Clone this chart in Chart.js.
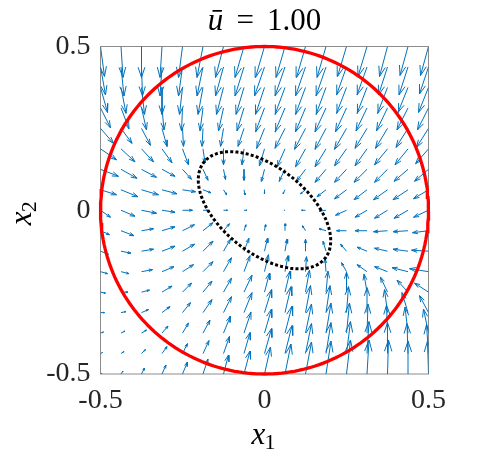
<!DOCTYPE html>
<html>
<head>
<meta charset="utf-8">
<script src="https://cdn.jsdelivr.net/npm/chart.js@4.4.1/dist/chart.umd.min.js"></script>
<style>
  html, body { margin: 0; padding: 0; background: #fff; }
  canvas { display: block; }
</style>
</head>
<body>
<canvas id="chart" width="478" height="455"></canvas>
<script>
// grid of the quiver (x1 left to right, x2 top to bottom)
const xs = [-0.5, -0.4375, -0.375, -0.3125, -0.25, -0.1875, -0.125, -0.0625, 0, 0.0625, 0.125, 0.1875, 0.25, 0.3125, 0.375, 0.4375, 0.5];
const ys = [0.5, 0.4375, 0.375, 0.3125, 0.25, 0.1875, 0.125, 0.0625, 0, -0.0625, -0.125, -0.1875, -0.25, -0.3125, -0.375, -0.4375, -0.5];

// field components, one row per x2 value
const U = [
  [4, 2, 0, -2, -4, -6, -8, -9, -9, -9, -9, -9, -9, -9, -8, -8, -8],
  [5, 3, 1, -2, -4, -6, -8, -9, -10, -10, -10, -10, -10, -10, -9, -9, -9],
  [7, 5, 3, 0, -3, -5, -7, -8, -9, -10, -10, -10, -10, -10, -10, -10, -10],
  [10, 8, 5, 2, -1, -3, -5, -7, -9, -10, -10, -11, -11, -11, -11, -11, -11],
  [13, 11, 9, 5, 1, -1, -3, -6, -8, -10, -11, -11, -12, -12, -12, -12, -12],
  [16, 14, 12, 10, 6, 2, 0, -2, -5, -8, -10, -11, -12, -12, -13, -13, -13],
  [18, 16, 15, 13, 9, 5, 2, 0, -3, -6, -9, -11, -12, -13, -13, -14, -14],
  [16, 17, 17, 15, 13, 8, 3, 1, 0, -2, -5, -9, -12, -13, -14, -15, -15],
  [10, 14, 15, 13, 10, 5, 4, 3, 0, -1, -4, -7, -11, -12, -13, -14, -15],
  [9, 13, 12, 13, 12, 10, 6, 2, 1, 0, -3, -7, -10, -12, -14, -15, -16],
  [8, 10, 12, 13, 12, 10, 7, 5, 3, 2, 0, -3, -6, -10, -13, -15, -17],
  [7, 8, 11, 12, 11, 10, 8, 6, 4, 3, 1, -1, -5, -10, -13, -16, -19],
  [5, 7, 8, 10, 9, 9, 8, 8, 5, 5, 4, 2, 0, -3, -7, -11, -14],
  [4, 5, 7, 8, 8, 9, 8, 8, 7, 6, 5, 4, 2, 0, -3, -6, -9],
  [3, 4, 5, 6, 6, 7, 7, 7, 7, 7, 6, 5, 3, 1, -1, -3, -5],
  [2, 3, 4, 5, 5, 6, 6, 6, 7, 7, 6, 5, 4, 2, 0, -1, -2],
  [1, 2, 3, 4, 5, 5, 5, 6, 6, 6, 6, 5, 4, 2, 1, 0, -1]
];
const V = [
  [-30, -31, -31, -31, -31, -31, -31, -31, -31, -31, -31, -31, -30, -30, -30, -29, -29],
  [-28, -29, -29, -29, -29, -29, -29, -29, -29, -29, -29, -29, -28, -28, -28, -28, -27],
  [-25, -26, -27, -27, -27, -27, -27, -27, -27, -27, -27, -27, -26, -26, -26, -25, -25],
  [-20, -21, -22, -22, -23, -23, -23, -23, -24, -24, -24, -24, -24, -23, -23, -22, -22],
  [-15, -15, -17, -18, -18, -18, -18, -18, -20, -20, -21, -21, -21, -20, -20, -19, -19],
  [-11, -13, -13, -14, -16, -14, -16, -16, -17, -18, -18, -18, -17, -17, -16, -16, -15],
  [-7, -9, -8, -7, -10, -11, -10, -11, -12, -12, -12, -13, -13, -13, -13, -12, -12],
  [-5, -7, -5, -4, -2, -3, -5, -5, -4, -4, -4, -7, -9, -10, -10, -10, -9],
  [-7, -6, -3, -2, 0, 0, 0, 0, 0, 0, 0, -1, -5, -7, -8, -8, -7],
  [-4, -5, 2, 4, 6, 8, 7, 6, 6, 7, 5, 2, 0, 0, -1, -1, -2],
  [-3, -2, 2, 5, 7, 10, 12, 13, 13, 12, 12, 10, 7, 4, 3, 2, 1],
  [-2, -2, 2, 5, 7, 10, 14, 16, 17, 16, 15, 13, 9, 7, 5, 4, 3],
  [-1, 0, 2, 6, 9, 11, 14, 17, 19, 21, 22, 21, 20, 18, 15, 12, 9],
  [0, 1, 3, 6, 10, 13, 16, 20, 23, 26, 27, 27, 26, 25, 23, 20, 17],
  [1, 2, 3, 7, 10, 13, 17, 21, 24, 27, 29, 30, 30, 29, 28, 26, 24],
  [1, 2, 4, 7, 10, 13, 17, 21, 25, 28, 30, 31, 32, 32, 31, 30, 29],
  [1, 3, 6, 9, 12, 15, 19, 23, 27, 30, 32, 33, 34, 34, 34, 33, 33]
];

const uBar = 1.00;
const circleRadius = 0.5;
// dotted level set x' P x = 1
const ellipseP = [33.6, 19.7, 42.8];
const xTicks = [-0.5, 0, 0.5];
const yTicks = [-0.5, 0, 0.5];

const arrowScale = 1 / 328;   // quiver scale, plot units per field unit
const headAlpha = 0.33, headBeta = 0.33;
const serif = '"Liberation Serif", "Times New Roman", serif';

// quiver as one broken line: shaft, gap, head, gap
const gap = {x: NaN, y: NaN};
const quiverPts = [];
for (let r = 0; r < ys.length; r++) {
  for (let c = 0; c < xs.length; c++) {
    const x = xs[c], y = ys[r];
    const u = U[r][c] * arrowScale, v = V[r][c] * arrowScale;
    if (u == 0 && v == 0) continue;
    const tx = x + u, ty = y + v;
    quiverPts.push({x: x, y: y}, {x: tx, y: ty}, gap);
    quiverPts.push(
      {x: tx - headAlpha * (u + headBeta * v), y: ty - headAlpha * (v - headBeta * u)},
      {x: tx, y: ty},
      {x: tx - headAlpha * (u - headBeta * v), y: ty - headAlpha * (v + headBeta * u)},
      gap);
  }
}

const circlePts = [];
const ellipsePts = [];
for (let k = 0; k <= 240; k++) {
  const t = 2 * Math.PI * k / 240;
  const c = Math.cos(t), s = Math.sin(t);
  circlePts.push({x: circleRadius * c, y: circleRadius * s});
  const rr = 1 / Math.sqrt(ellipseP[0] * c * c + 2 * ellipseP[1] * c * s + ellipseP[2] * s * s);
  ellipsePts.push({x: rr * c, y: rr * s});
}

function drawSub(ctx, x, y, main, sub, size) {
  ctx.font = 'italic ' + size + 'px ' + serif;
  ctx.fillText(main, x, y);
  const w = ctx.measureText(main).width;
  ctx.font = Math.round(size * 0.7) + 'px ' + serif;
  ctx.fillText(sub, x + w - 1, y + 5);
}
function subWidth(ctx, main, sub, size) {
  ctx.font = 'italic ' + size + 'px ' + serif;
  const w = ctx.measureText(main).width;
  ctx.font = Math.round(size * 0.7) + 'px ' + serif;
  return w - 1 + ctx.measureText(sub).width;
}

const frame = {
  id: 'frame',
  beforeDatasetsDraw(chart) {
    const {ctx, chartArea: a} = chart;
    ctx.save();
    ctx.strokeStyle = '#8c8c8c';
    ctx.lineWidth = 1;
    ctx.strokeRect(a.left, a.top, a.right - a.left, a.bottom - a.top);
    ctx.restore();
  },
  afterDraw(chart) {
    const {ctx, chartArea: a} = chart;
    const cx = (a.left + a.right) / 2, cy = (a.top + a.bottom) / 2;
    ctx.save();
    ctx.fillStyle = '#000';
    ctx.textBaseline = 'alphabetic';
    ctx.textAlign = 'left';
    // title  ū = 1.00
    const fs = 31;
    const num = uBar.toFixed(2);
    ctx.font = 'italic ' + fs + 'px ' + serif;
    const wU = ctx.measureText('ū').width;
    ctx.font = fs + 'px ' + serif;
    const wEq = ctx.measureText('=').width, wNum = ctx.measureText(num).width;
    const g = 0.42 * fs;
    let x = cx - (wU + g + wEq + g + wNum) / 2;
    const ty = a.top - 16.5;
    ctx.font = 'italic ' + fs + 'px ' + serif;
    ctx.fillText('ū', x, ty);
    x += wU + g;
    ctx.font = fs + 'px ' + serif;
    ctx.fillText('=', x, ty);
    x += wEq + g;
    ctx.fillText(num, x, ty);
    // axis labels
    const ls = 31;
    const wx = subWidth(ctx, 'x', '1', ls);
    drawSub(ctx, cx - 1 - wx / 2, a.bottom + 69.5, 'x', '1', ls);
    ctx.translate(a.left - 70, cy + 3);
    ctx.rotate(-Math.PI / 2);
    const wy = subWidth(ctx, 'x', '2', ls);
    drawSub(ctx, -wy / 2, 0, 'x', '2', ls);
    ctx.restore();
  }
};

new Chart(document.getElementById('chart'), {
  type: 'scatter',
  data: {
    datasets: [
      {
        label: 'level set',
        data: ellipsePts,
        showLine: true,
        borderColor: '#000000',
        borderWidth: 3,
        borderDash: [3, 2.2],
        pointRadius: 0,
        order: 0
      },
      {
        label: 'circle',
        data: circlePts,
        showLine: true,
        borderColor: '#ff0000',
        borderWidth: 3.3,
        pointRadius: 0,
        clip: false,
        order: 1
      },
      {
        label: 'field',
        data: quiverPts,
        showLine: true,
        spanGaps: false,
        borderColor: '#0072bd',
        borderWidth: 1,
        pointRadius: 0,
        order: 2
      }
    ]
  },
  options: {
    responsive: false,
    animation: false,
    events: [],
    layout: { padding: { top: 46.5, right: 49.5, left: 0, bottom: 0 } },
    plugins: {
      legend: { display: false },
      title: { display: false },
      tooltip: { enabled: false }
    },
    scales: {
      x: {
        type: 'linear',
        min: -0.5,
        max: 0.5,
        grid: { display: false, drawTicks: false },
        border: { display: false },
        afterBuildTicks: s => { s.ticks = xTicks.map(v => ({value: v})); },
        afterFit: s => { s.height = 81; },
        ticks: {
          padding: 10,
          maxRotation: 0,
          color: '#262626',
          font: { family: serif, size: 28 },
          callback: v => String(v)
        }
      },
      y: {
        type: 'linear',
        min: -0.5,
        max: 0.5,
        grid: { display: false, drawTicks: false },
        border: { display: false },
        afterBuildTicks: s => { s.ticks = yTicks.map(v => ({value: v})); },
        afterFit: s => { s.width = 100.5; },
        ticks: {
          padding: 10,
          color: '#262626',
          font: { family: serif, size: 28 },
          callback: v => String(v)
        }
      }
    }
  },
  plugins: [frame]
});
</script>
</body>
</html>
